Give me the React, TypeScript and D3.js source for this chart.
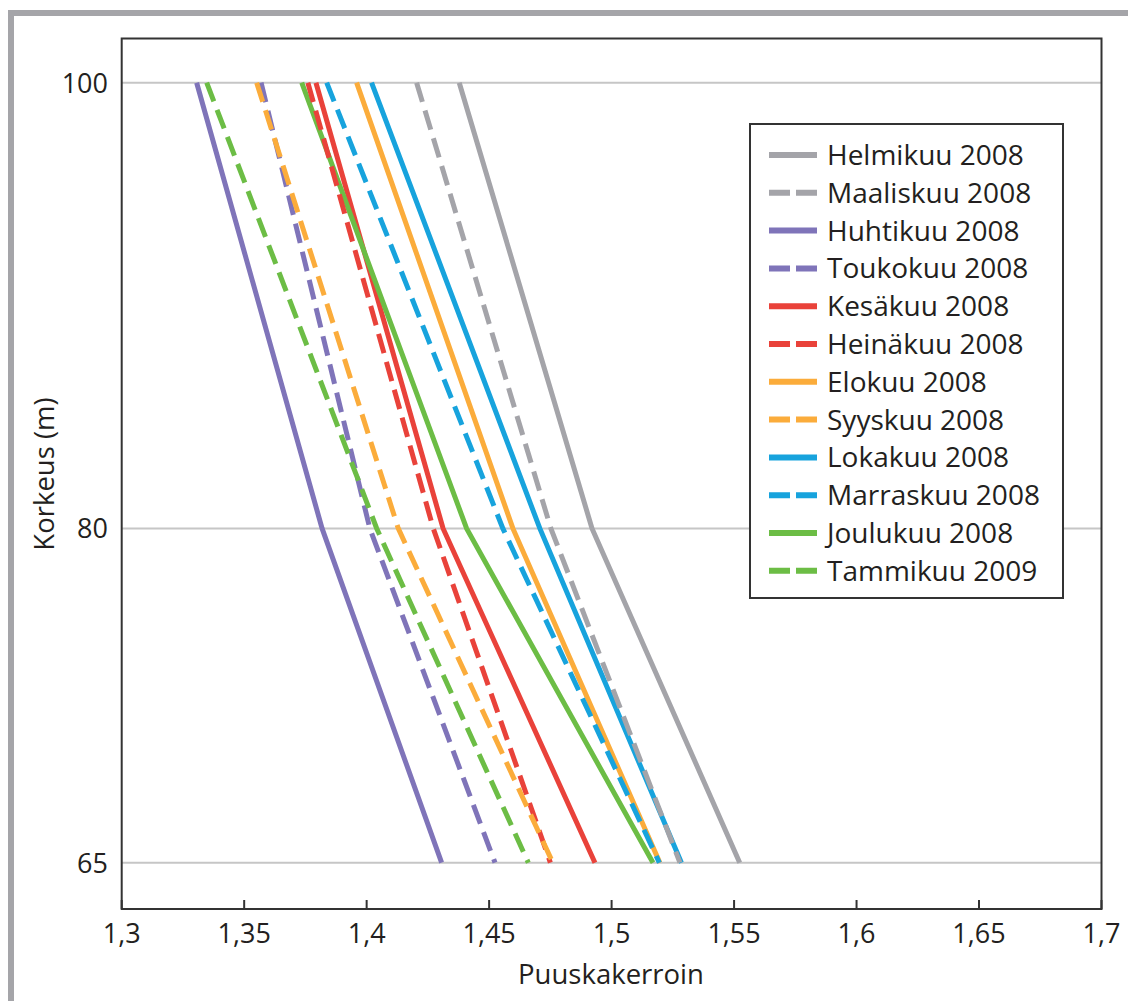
import React from "react";
import * as d3 from "d3";

const heights = [100, 80, 65];
const seriesNames = [
  "Helmikuu 2008", "Maaliskuu 2008", "Huhtikuu 2008", "Toukokuu 2008",
  "Kesäkuu 2008", "Heinäkuu 2008", "Elokuu 2008", "Syyskuu 2008",
  "Lokakuu 2008", "Marraskuu 2008", "Joulukuu 2008", "Tammikuu 2009",
];
const helmikuu = [1.4378, 1.492, 1.5523];
const maaliskuu = [1.4204, 1.4752, 1.5279];
const huhtikuu = [1.3306, 1.3818, 1.4306];
const toukokuu = [1.3569, 1.4013, 1.4524];
const kesakuu = [1.3793, 1.4312, 1.4932];
const heinakuu = [1.376, 1.4272, 1.475];
const elokuu = [1.3959, 1.4597, 1.5197];
const syyskuu = [1.3551, 1.4129, 1.476];
const lokakuu = [1.402, 1.4707, 1.5285];
const marraskuu = [1.3837, 1.4556, 1.5195];
const joulukuu = [1.3735, 1.4408, 1.5169];
const tammikuu = [1.3347, 1.4041, 1.466];
const seriesValues = [helmikuu, maaliskuu, huhtikuu, toukokuu, kesakuu, heinakuu, elokuu, syyskuu, lokakuu, marraskuu, joulukuu, tammikuu];
const seriesColors = ["#a4a4a9", "#a4a4a9", "#7f74b9", "#7f74b9", "#e9423a", "#e9423a", "#fbac3b", "#fbac3b", "#17a3dd", "#17a3dd", "#6cbd45", "#6cbd45"];
const seriesDashed = [false, true, false, true, false, true, false, true, false, true, false, true];
const xTicks = [1.3, 1.35, 1.4, 1.45, 1.5, 1.55, 1.6, 1.65, 1.7];
const yTicks = [100, 80, 65];
const xTitle = "Puuskakerroin";
const yTitle = "Korkeus (m)";

const FONT = "'Open Sans', sans-serif";
const TEXT = "#231f20";

export default function App() {
  const left = 121.7, right = 1101.5, top = 38.5, bottom = 909;
  const x = d3.scaleLinear().domain([1.3, 1.7]).range([left, right]);
  const y = d3.scaleLinear().domain([65, 100]).range([862.7, 82.7]);
  const line = d3.line<[number, number]>().x((d) => x(d[0])).y((d) => y(d[1]));
  const fmt = (v: number) => String(+v.toFixed(2)).replace(".", ",");

  const order = d3.range(seriesNames.length).sort((a, b) => (seriesDashed[a] ? 1 : 0) - (seriesDashed[b] ? 1 : 0));

  const legX = 750, legY = 124, legW = 313, legH = 474;
  const rowY0 = 155, rowStep = 37.8;

  return (
    <svg width={1128} height={1001} style={{ position: "absolute", left: 0, top: 0, background: "#fff" }}>
      {/* outer frame */}
      <line x1={8} x2={1128} y1={13} y2={13} stroke="#a5a5a9" strokeWidth={6} />
      <line x1={11} x2={11} y1={10} y2={1001} stroke="#a5a5a9" strokeWidth={6} />

      {/* gridlines */}
      {yTicks.map((t) => (
        <line key={"g" + t} x1={left} x2={right} y1={y(t)} y2={y(t)} stroke="#c6c6c6" strokeWidth={2} />
      ))}

      {/* series */}
      {order.map((i) => (
        <path
          key={seriesNames[i]}
          d={line(seriesValues[i].map((v, k) => [v, heights[k]] as [number, number])) || ""}
          fill="none"
          stroke={seriesColors[i]}
          strokeWidth={5}
          strokeDasharray={seriesDashed[i] ? "20 9" : undefined}
        />
      ))}

      {/* plot frame */}
      <rect x={left} y={top} width={right - left} height={bottom - top} fill="none" stroke="#333" strokeWidth={2} />

      {/* x ticks */}
      {xTicks.map((t) => (
        <g key={"x" + t}>
          <line x1={x(t)} x2={x(t)} y1={bottom} y2={bottom - 9} stroke="#333" strokeWidth={2} />
          <text x={x(t)} y={943} textAnchor="middle" fontFamily={FONT} fontSize={27} fill={TEXT}>
            {fmt(t)}
          </text>
        </g>
      ))}
      {/* y ticks */}
      {yTicks.map((t) => (
        <text key={"y" + t} x={108} y={y(t) + 10} textAnchor="end" fontFamily={FONT} fontSize={27} fill={TEXT}>
          {t}
        </text>
      ))}

      {/* titles */}
      <text x={611} y={984} textAnchor="middle" fontFamily={FONT} fontSize={27.5} fill={TEXT}>
        {xTitle}
      </text>
      <text transform="translate(54,474) rotate(-90)" textAnchor="middle" fontFamily={FONT} fontSize={27.5} fill={TEXT}>
        {yTitle}
      </text>

      {/* legend */}
      <rect x={legX} y={legY} width={legW} height={legH} fill="#fff" stroke="#333" strokeWidth={2} />
      {seriesNames.map((n, i) => {
        const cy = rowY0 + i * rowStep;
        return (
          <g key={"l" + n}>
            <line x1={769} x2={817} y1={cy} y2={cy} stroke={seriesColors[i]} strokeWidth={6} strokeDasharray={seriesDashed[i] ? "21 6" : undefined} />
            <text x={827} y={cy + 10} fontFamily={FONT} fontSize={28} fill={TEXT}>
              {n}
            </text>
          </g>
        );
      })}
    </svg>
  );
}
